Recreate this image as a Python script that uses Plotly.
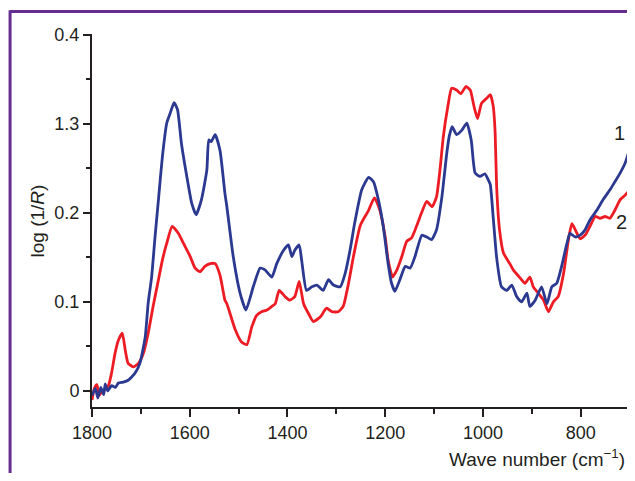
import plotly.graph_objects as go

# Series 1 (blue)
wn_1 = [1800, 1793, 1788, 1782, 1776, 1773, 1768, 1760, 1752, 1746, 1736, 1726, 1712, 1702,
        1691, 1685, 1678, 1671, 1664, 1656, 1647, 1640, 1632, 1625, 1617, 1606, 1596, 1587,
        1576, 1565, 1561, 1556, 1548, 1538, 1528, 1524, 1511, 1497, 1485, 1470, 1456, 1446,
        1432, 1422, 1408, 1398, 1391, 1385, 1376, 1371, 1361, 1350, 1340, 1327, 1316, 1306,
        1292, 1282, 1272, 1262, 1248, 1234, 1224, 1214, 1204, 1194, 1187, 1180, 1170, 1159,
        1149, 1139, 1125, 1115, 1105, 1095, 1084, 1074, 1069, 1063, 1054, 1043, 1033, 1024,
        1016, 1006, 996, 989, 985, 979, 972, 962, 951, 941, 931, 921, 910, 904, 893, 880,
        869, 859, 849, 839, 828, 822, 811, 801, 791, 781, 767, 754, 740, 730, 719, 709, 699]
absorb_1 = [-0.005, 0.003, -0.008, 0.004, -0.004, 0.008, 0.0, 0.006, 0.004, 0.009, 0.010, 0.012, 0.020, 0.031,
            0.061, 0.099, 0.128, 0.173, 0.215, 0.263, 0.301, 0.312, 0.324, 0.316, 0.278, 0.241, 0.211, 0.198,
            0.215, 0.248, 0.282, 0.280, 0.288, 0.270, 0.222, 0.207, 0.151, 0.110, 0.091, 0.117, 0.138, 0.136,
            0.128, 0.143, 0.158, 0.164, 0.151, 0.158, 0.164, 0.147, 0.113, 0.117, 0.119, 0.113, 0.125, 0.119,
            0.117, 0.132, 0.158, 0.190, 0.226, 0.240, 0.235, 0.215, 0.185, 0.143, 0.121, 0.112, 0.125, 0.140,
            0.138, 0.151, 0.175, 0.173, 0.170, 0.181, 0.218, 0.267, 0.286, 0.297, 0.288, 0.293, 0.301, 0.282,
            0.245, 0.241, 0.244, 0.237, 0.232, 0.195, 0.150, 0.117, 0.113, 0.119, 0.106, 0.100, 0.110, 0.095, 0.102, 0.117,
            0.098, 0.117, 0.121, 0.140, 0.166, 0.177, 0.173, 0.175, 0.181, 0.192, 0.203, 0.215, 0.226, 0.235, 0.245, 0.256, 0.273]

# Series 2 (red)
wn_2 = [1800, 1795, 1790, 1785, 1780, 1773, 1767, 1760, 1753, 1746, 1738, 1732, 1726, 1715, 1705,
        1695, 1685, 1675, 1664, 1656, 1647, 1636, 1623, 1613, 1599, 1589, 1579, 1569, 1558, 1548,
        1538, 1528, 1524, 1507, 1494, 1483, 1473, 1463, 1453, 1442, 1432, 1425, 1417, 1405, 1395,
        1385, 1376, 1367, 1357, 1347, 1333, 1320, 1309, 1296, 1286, 1275, 1265, 1251, 1234, 1222,
        1211, 1200, 1194, 1185, 1176, 1166, 1156, 1146, 1136, 1125, 1115, 1104, 1095, 1088, 1081,
        1072, 1064, 1054, 1045, 1035, 1026, 1018, 1011, 1003, 992, 985, 979, 975, 972, 966, 958,
        945, 938, 924, 914, 904, 897, 887, 876, 866, 856, 846, 835, 825, 818, 811, 801, 791, 781,
        770, 760, 750, 740, 730, 719, 709, 699]
absorb_2 = [-0.010, 0.003, 0.007, -0.005, -0.001, 0.002, 0.005, 0.020, 0.042, 0.057, 0.065, 0.046, 0.031, 0.027, 0.031,
            0.042, 0.065, 0.095, 0.125, 0.147, 0.166, 0.185, 0.177, 0.166, 0.151, 0.138, 0.134, 0.140, 0.143, 0.143,
            0.130, 0.102, 0.098, 0.069, 0.055, 0.052, 0.072, 0.085, 0.089, 0.091, 0.095, 0.098, 0.113, 0.106, 0.102,
            0.106, 0.123, 0.098, 0.087, 0.078, 0.083, 0.093, 0.089, 0.089, 0.095, 0.121, 0.151, 0.186, 0.203, 0.217,
            0.203, 0.173, 0.147, 0.128, 0.136, 0.151, 0.168, 0.172, 0.185, 0.201, 0.213, 0.207, 0.218, 0.248, 0.286,
            0.319, 0.340, 0.338, 0.334, 0.342, 0.338, 0.319, 0.306, 0.323, 0.329, 0.333, 0.320, 0.290, 0.230, 0.181, 0.155,
            0.143, 0.136, 0.127, 0.121, 0.128, 0.117, 0.110, 0.102, 0.089, 0.100, 0.106, 0.132, 0.170, 0.188, 0.181, 0.171, 0.175, 0.185,
            0.196, 0.194, 0.196, 0.194, 0.203, 0.215, 0.220, 0.226]

y_tickvals = [0, 0.1, 0.2, 0.3, 0.4]
y_ticktext = ["0", "0.1", "0.2", "1.3", "0.4"]
x_tickvals = [1800, 1600, 1400, 1200, 1000, 800]
x_ticktext = ["1800", "1600", "1400", "1200", "1000", "800"]

BLUE = "#2B3990"
RED = "#ED1C24"
INK = "#231F20"
PURPLE = "#662D91"
FONT = "Arial, Liberation Sans, sans-serif"

fig = go.Figure()
fig.add_trace(go.Scatter(x=wn_2, y=absorb_2, mode="lines",
                         line=dict(color=RED, width=2.8, shape="spline", smoothing=0.5), showlegend=False))
fig.add_trace(go.Scatter(x=wn_1, y=absorb_1, mode="lines",
                         line=dict(color=BLUE, width=2.8, shape="spline", smoothing=0.5), showlegend=False))

fig.update_layout(
    width=627, height=465,
    margin=dict(l=84, r=4, t=26, b=66),
    paper_bgcolor="white", plot_bgcolor="white",
    font=dict(family=FONT, size=18, color=INK),
    xaxis=dict(range=[1800, 697], showgrid=False, zeroline=False,
               showline=True, linecolor=INK, linewidth=2,
               ticks="outside", ticklen=8, tickwidth=2, tickcolor=INK,
               tickvals=x_tickvals, ticktext=x_ticktext,
               minor=dict(tickvals=[1700, 1500, 1300, 1100, 900, 700], ticks="outside", ticklen=5, tickwidth=2, tickcolor=INK),
               tickfont=dict(size=18, color=INK, family=FONT)),
    yaxis=dict(range=[-0.018, 0.401], showgrid=False, zeroline=False,
               showline=True, linecolor=INK, linewidth=2,
               ticks="outside", ticklen=7, tickwidth=2, tickcolor=INK,
               tickvals=y_tickvals, ticktext=y_ticktext,
               minor=dict(tickvals=[0.05, 0.15, 0.25, 0.35], ticks="outside", ticklen=4, tickwidth=2, tickcolor=INK),
               tickfont=dict(size=18, color=INK, family=FONT)),
    shapes=[
        dict(type="line", xref="paper", yref="paper", x0=-0.152, x1=1.01, y0=1.060, y1=1.060,
             line=dict(color=PURPLE, width=3)),
        dict(type="line", xref="paper", yref="paper", x0=-0.152, x1=-0.152, y0=1.064, y1=-0.2,
             line=dict(color=PURPLE, width=3)),
    ],
    annotations=[
        dict(text="log (1/<i>R</i>)", xref="paper", yref="paper", x=-0.1002, y=0.5,
             textangle=-90, showarrow=False, xanchor="center", yanchor="middle",
             font=dict(size=19, color=INK, family=FONT)),
        dict(text="Wave number (cm<sup>−1</sup>)", xref="paper", yref="paper", x=0.9926, y=-0.1367,
             showarrow=False, xanchor="right", yanchor="middle",
             font=dict(size=19, color=INK, family=FONT)),
        dict(text="1", x=721, y=0.29, xref="x", yref="y", showarrow=False,
             font=dict(size=20, color=INK, family=FONT)),
        dict(text="2", x=717, y=0.19, xref="x", yref="y", showarrow=False,
             font=dict(size=20, color=INK, family=FONT)),
    ],
)

fig.write_html("out.html")
